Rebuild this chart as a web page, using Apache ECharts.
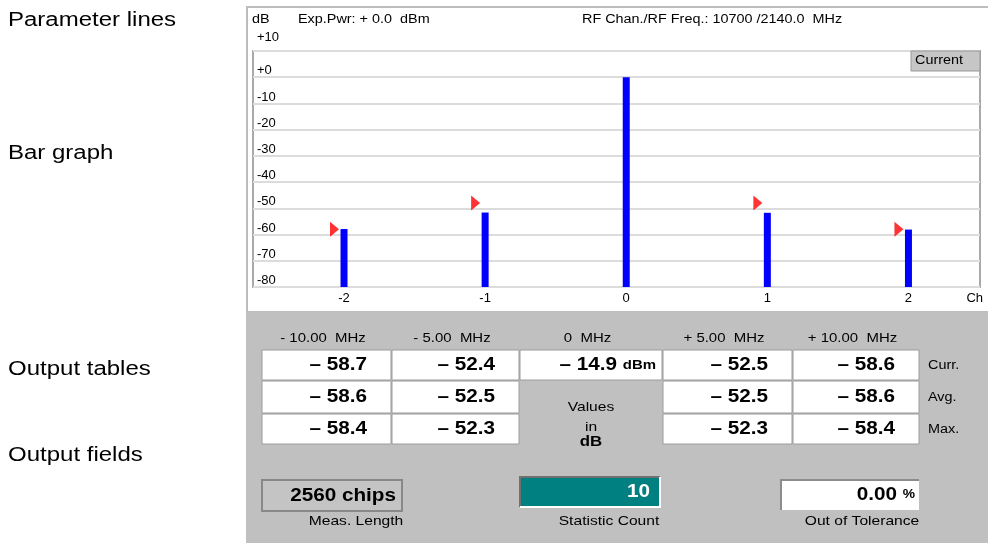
<!DOCTYPE html>
<html>
<head>
    <meta charset="utf-8">
    <title>ACLR bar graph</title>
    <script src="https://cdn.jsdelivr.net/npm/echarts@6/dist/echarts.min.js"></script>
    <style>
        body { margin: 0; background: #fff; }
        #main { width: 988px; height: 543px; }
    </style>
</head>
<body>
<div id="main"></div>
<script type="text/javascript">
    // channel axis and measured levels (dB, relative to carrier)
    var channels = [-2, -1, 0, 1, 2];
    var barLevels = [-57.9, -51.6, 0, -51.7, -58.1];
    // red limit markers
    var limitChannels = [-2, -1, 1, 2];
    var limitLevels = [-58, -48, -48, -58];

    // output table
    var offsetNames = ['- 10.00  MHz', '- 5.00  MHz', '0  MHz', '+ 5.00  MHz', '+ 10.00  MHz'];
    var currVals = [-58.7, -52.4, -14.9, -52.5, -58.6];
    var avgVals = [-58.6, -52.5, null, -52.5, -58.6];
    var maxVals = [-58.4, -52.3, null, -52.3, -58.4];
    var rowNames = ['Curr.', 'Avg.', 'Max.'];

    // output fields
    var measLength = 2560;
    var statCount = 10;
    var outOfTol = 0.00;

    var sideLabels = ['Parameter lines', 'Bar graph', 'Output tables', 'Output fields'];
    var sideLabelY = [20, 153, 369, 455];

    var FONT = '"Liberation Sans", Arial, sans-serif';
    var SX = 1.2;      // instrument font is wider than Arial
    var SXB = 1.15;
    var graphics = [];

    function label(x, y, text, size, opt) {
        opt = opt || {};
        graphics.push({
            type: 'text', x: x, y: y, z: 20, scaleX: opt.sx || SX,
            style: {
                text: text, fontSize: size, fontFamily: FONT,
                fontWeight: opt.bold ? 'bold' : 'normal',
                fill: opt.color || '#000', align: opt.align || 'left',
                verticalAlign: 'middle', rich: opt.rich
            }
        });
    }

    function box(x, y, w, h, fill, stroke, lw) {
        graphics.push({
            type: 'rect', z: 10,
            shape: { x: x, y: y, width: w, height: h },
            style: { fill: fill, stroke: stroke || null, lineWidth: lw || 0 }
        });
    }

    function line(points, color, lw) {
        graphics.push({
            type: 'polyline', z: 11,
            shape: { points: points },
            style: { stroke: color, lineWidth: lw, fill: null }
        });
    }

    function fmt(v) {
        return (v < 0 ? '\u2013 ' : '') + Math.abs(v).toFixed(1);
    }

    // panels
    box(247, 7, 745, 305, 'none', '#bdbdbd', 2);
    box(246, 312, 745, 235, '#c0c0c0');

    // header line
    label(252, 20, 'dB', 12);
    label(298, 20, 'Exp.Pwr: + 0.0  dBm', 12);
    label(582, 20, 'RF Chan./RF Freq.: 10700 /2140.0  MHz', 12);

    // "Current" tag
    box(911, 51, 69, 20, '#c6c6c6', '#9a9a9a', 1);
    label(915, 61, 'Current', 12);

    // left captions
    sideLabels.forEach(function (s, i) {
        label(8, sideLabelY[i], s, 20, { sx: 1.2 });
    });

    // table
    var colX = [262, 392, 520, 663, 793, 920];
    var rowY = [350, 381, 414, 445];
    var rows = [currVals, avgVals, maxVals];
    offsetNames.forEach(function (s, i) {
        label((colX[i] + colX[i + 1]) / 2 - 4, 338, s, 13, { align: 'center', sx: 1.15 });
    });
    rows.forEach(function (vals, r) {
        vals.forEach(function (v, i) {
            if (v === null) return;
            box(colX[i], rowY[r], colX[i + 1] - colX[i] - 1, rowY[r + 1] - rowY[r] - 1, '#fff', '#9c9c9c', 1);
            var cy = (rowY[r] + rowY[r + 1]) / 2;
            if (i === 2) {
                label(colX[i + 1] - 7, cy, '{n|' + fmt(v) + '} {u|dBm}', 18, {
                    align: 'right', sx: SXB,
                    rich: {
                        n: { fontSize: 18, fontWeight: 'bold', fontFamily: FONT },
                        u: { fontSize: 13, fontWeight: 'bold', fontFamily: FONT }
                    }
                });
            } else {
                label(colX[i + 1] - 25, cy, fmt(v), 18, { bold: true, align: 'right', sx: SXB });
            }
        });
        label(928, (rowY[r] + rowY[r + 1]) / 2, rowNames[r], 12);
    });
    label(591, 407, 'Values', 13, { align: 'center' });
    label(591, 427, 'in', 13, { align: 'center' });
    label(591, 442, 'dB', 14, { align: 'center', bold: true });

    // output fields
    box(262, 480, 140, 31, '#c4c4c4', '#888888', 2);
    label(396, 496, measLength + ' chips', 18, { bold: true, align: 'right', sx: SXB });
    label(356, 521, 'Meas. Length', 13, { align: 'center' });

    box(520, 477, 140, 30, '#008080');
    line([[520, 507], [520, 477], [660, 477]], '#707070', 2);
    line([[520, 507], [660, 507], [660, 477]], '#ffffff', 2);
    label(650, 492, String(statCount), 18, { bold: true, align: 'right', color: '#fff', sx: SXB });
    label(609, 521, 'Statistic Count', 13, { align: 'center' });

    box(781, 480, 138, 30, '#fff');
    line([[781, 510], [781, 480], [919, 480]], '#8c8c8c', 2);
    label(915, 495, '{n|' + outOfTol.toFixed(2) + '} {u|%}', 18, {
        align: 'right', sx: SXB,
        rich: {
            n: { fontSize: 18, fontWeight: 'bold', fontFamily: FONT },
            u: { fontSize: 12, fontWeight: 'bold', fontFamily: FONT }
        }
    });
    label(862, 521, 'Out of Tolerance', 13, { align: 'center' });

    var myChart = echarts.init(document.getElementById('main'));

    var option = {
        animation: false,
        grid: {
            left: 253, right: 8, top: 51, bottom: 256,
            show: true, borderColor: '#a9a9a9', borderWidth: 2, backgroundColor: '#fff'
        },
        xAxis: {
            type: 'value',
            min: -2.645,
            max: 2.507,
            axisLine: { show: false, onZero: false },
            axisTick: { show: false },
            splitLine: { show: false },
            axisLabel: {
                customValues: channels,
                margin: 5,
                color: '#000',
                fontSize: 13,
                fontFamily: FONT
            },
            name: 'Ch',
            nameLocation: 'end',
            nameGap: 3,
            nameTextStyle: {
                align: 'right', verticalAlign: 'top', padding: [5, 0, 0, 0],
                color: '#000', fontSize: 13, fontFamily: FONT
            }
        },
        yAxis: {
            type: 'value',
            min: -80,
            max: 10,
            interval: 10,
            axisLine: { show: false },
            axisTick: { show: false },
            splitLine: { lineStyle: { color: '#dcdcdc', width: 2 } },
            axisLabel: {
                inside: true,
                margin: 4,
                verticalAlign: 'bottom',
                color: '#000',
                fontSize: 13,
                fontFamily: FONT,
                formatter: function (v) {
                    if (v === 10) return '{top|+10}';
                    return v === 0 ? '+0' : (v > 0 ? '+' + v : String(v));
                },
                rich: {
                    top: { fontSize: 13, fontFamily: FONT, color: '#000', padding: [0, 0, 7, 0] }
                }
            }
        },
        series: [{
            name: 'Current',
            type: 'custom',
            z: 3,
            data: channels.map(function (c, i) { return [c, barLevels[i]]; }),
            renderItem: function (params, api) {
                var top = api.coord([api.value(0), api.value(1)]);
                var base = api.coord([api.value(0), -80]);
                return {
                    type: 'rect',
                    shape: { x: top[0] - 3.5, y: top[1], width: 7, height: base[1] - top[1] },
                    style: { fill: '#0000ff' }
                };
            }
        }, {
            name: 'Limit',
            type: 'scatter',
            z: 4,
            symbol: 'triangle',
            symbolSize: [15, 9],
            symbolRotate: -90,
            symbolOffset: [-9.5, 0],
            itemStyle: { color: '#ff0000' },
            data: limitChannels.map(function (c, i) { return [c, limitLevels[i]]; })
        }],
        graphic: graphics
    };

    myChart.setOption(option);
</script>
</body>
</html>
